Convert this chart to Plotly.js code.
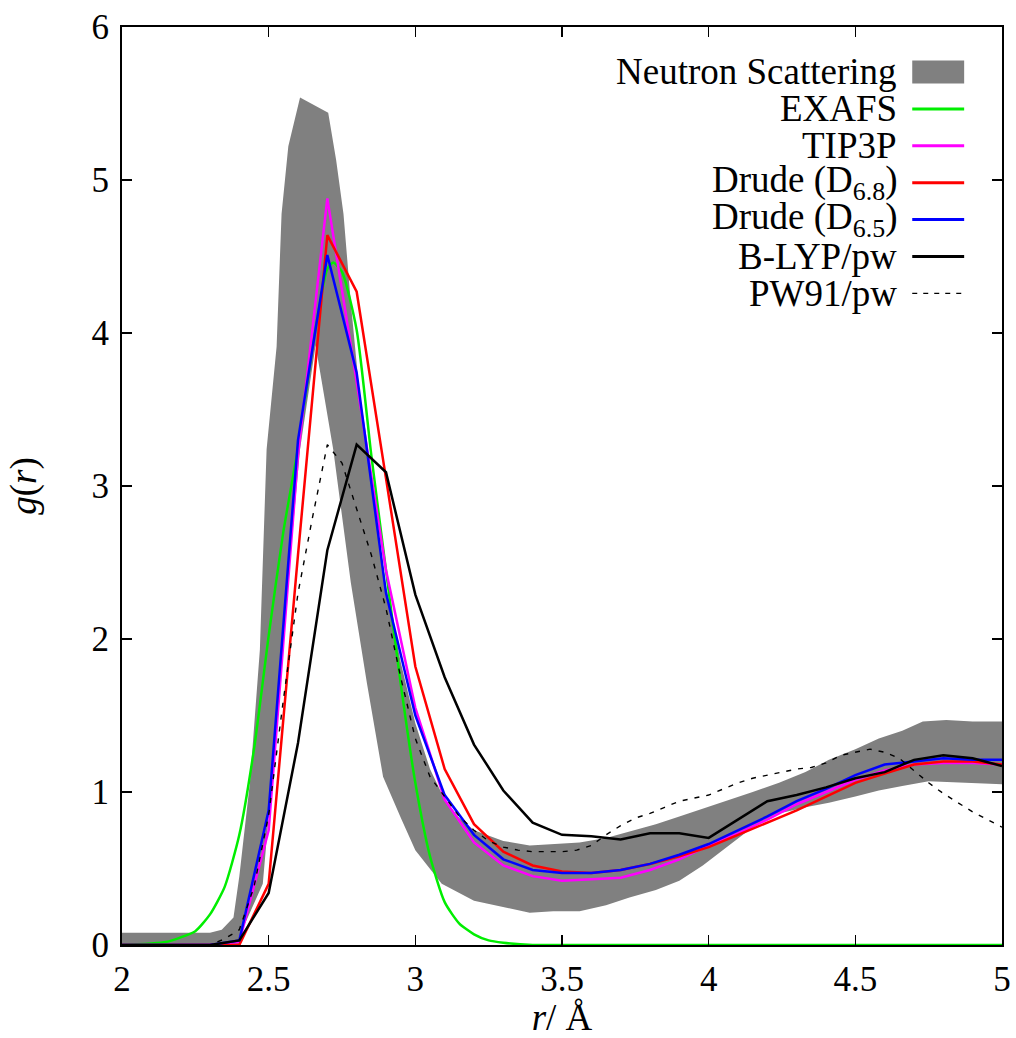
<!DOCTYPE html>
<html>
<head>
<meta charset="utf-8">
<script src="https://cdn.plot.ly/plotly-3.0.1.min.js"></script>
<style>html,body{margin:0;padding:0;background:#fff;}#chart{width:1016px;height:1038px;}</style>
</head>
<body>
<div id="chart"></div>
<script>
// ---- Neutron scattering band (upper and lower envelope) ----
const bandUpperR = [2.00, 2.30, 2.34, 2.36, 2.38, 2.40, 2.436, 2.47, 2.493, 2.527, 2.544, 2.567, 2.607, 2.703, 2.73, 2.755, 2.78, 2.81, 2.85, 2.90, 2.95, 3.00, 3.05, 3.10, 3.15, 3.20, 3.30, 3.39, 3.47, 3.56, 3.65, 3.73, 3.82, 3.90, 3.98, 4.07, 4.15, 4.24, 4.33, 4.41, 4.50, 4.58, 4.66, 4.73, 4.81, 4.90, 5.00];
const bandUpperG = [0.08, 0.08, 0.10, 0.14, 0.18, 0.45, 1.06, 1.93, 3.24, 3.91, 4.78, 5.22, 5.54, 5.44, 5.13, 4.78, 4.20, 3.60, 3.00, 2.35, 1.85, 1.45, 1.15, 0.95, 0.83, 0.75, 0.68, 0.65, 0.66, 0.67, 0.70, 0.74, 0.79, 0.84, 0.89, 0.95, 1.00, 1.06, 1.13, 1.21, 1.28, 1.35, 1.40, 1.46, 1.47, 1.46, 1.46];
const bandLowerR = [2.00, 2.36, 2.40, 2.41, 2.48, 2.51, 2.566, 2.607, 2.66, 2.72, 2.78, 2.835, 2.89, 2.953, 3.00, 3.09, 3.20, 3.29, 3.39, 3.47, 3.56, 3.65, 3.73, 3.82, 3.90, 3.98, 4.07, 4.15, 4.24, 4.33, 4.41, 4.50, 4.58, 4.66, 4.75, 4.88, 5.00];
const bandLowerG = [-0.30, -0.30, -0.05, 0.10, 0.40, 1.06, 2.37, 3.24, 3.92, 3.24, 2.37, 1.71, 1.10, 0.82, 0.62, 0.40, 0.29, 0.25, 0.21, 0.22, 0.22, 0.26, 0.31, 0.36, 0.42, 0.52, 0.65, 0.77, 0.86, 0.90, 0.93, 0.97, 1.01, 1.04, 1.07, 1.06, 1.05];

// ---- EXAFS ----
const exafsR = [2.00, 2.10, 2.15, 2.20, 2.25, 2.30, 2.35, 2.40, 2.45, 2.50, 2.55, 2.60, 2.65, 2.70, 2.72, 2.75, 2.80, 2.85, 2.90, 2.95, 3.00, 3.05, 3.10, 3.15, 3.20, 3.25, 3.30, 3.40, 3.50, 4.00, 4.50, 5.00];
const exafsG = [0.00, 0.01, 0.02, 0.05, 0.09, 0.20, 0.38, 0.72, 1.28, 2.02, 2.70, 3.25, 3.91, 4.42, 4.46, 4.40, 4.02, 3.20, 2.45, 1.71, 1.06, 0.58, 0.28, 0.14, 0.07, 0.03, 0.015, 0.00, 0.00, 0.00, 0.00, 0.00];

// ---- Simulations, r grid 0.1 Å ----
const simR = [2.0, 2.1, 2.2, 2.3, 2.4, 2.5, 2.6, 2.7, 2.8, 2.9, 3.0, 3.1, 3.2, 3.3, 3.4, 3.5, 3.6, 3.7, 3.8, 3.9, 4.0, 4.1, 4.2, 4.3, 4.4, 4.5, 4.6, 4.7, 4.8, 4.9, 5.0];
const tip3pG = [0, 0, 0, 0, 0.02, 0.75, 3.20, 4.88, 3.68, 2.45, 1.55, 0.95, 0.67, 0.52, 0.45, 0.42, 0.43, 0.44, 0.49, 0.56, 0.65, 0.73, 0.82, 0.92, 1.00, 1.08, 1.14, 1.18, 1.19, 1.19, 1.18];
const drude68G = [0, 0, 0, 0, 0.00, 0.40, 2.55, 4.64, 4.27, 3.05, 1.82, 1.15, 0.79, 0.61, 0.52, 0.48, 0.47, 0.49, 0.53, 0.58, 0.64, 0.72, 0.80, 0.88, 0.97, 1.06, 1.12, 1.18, 1.20, 1.20, 1.18];
const drude65G = [0, 0, 0, 0, 0.03, 0.88, 3.30, 4.51, 3.74, 2.30, 1.50, 0.98, 0.72, 0.56, 0.49, 0.47, 0.47, 0.49, 0.53, 0.59, 0.66, 0.75, 0.84, 0.94, 1.02, 1.11, 1.18, 1.20, 1.22, 1.21, 1.21];
const blypG = [0, 0, 0, 0, 0.03, 0.34, 1.32, 2.58, 3.27, 3.09, 2.29, 1.75, 1.31, 1.01, 0.80, 0.72, 0.71, 0.69, 0.73, 0.73, 0.70, 0.82, 0.94, 0.98, 1.03, 1.09, 1.13, 1.21, 1.24, 1.22, 1.17];

// ---- PW91, r grid 0.05 Å ----
const pw91R = [2.00, 2.30, 2.35, 2.40, 2.45, 2.50, 2.55, 2.60, 2.65, 2.70, 2.75, 2.80, 2.85, 2.90, 2.95, 3.00, 3.05, 3.10, 3.15, 3.20, 3.25, 3.30, 3.35, 3.40, 3.45, 3.50, 3.55, 3.60, 3.65, 3.70, 3.75, 3.80, 3.85, 3.90, 3.95, 4.00, 4.05, 4.10, 4.15, 4.20, 4.25, 4.30, 4.35, 4.40, 4.45, 4.50, 4.55, 4.60, 4.65, 4.70, 4.75, 4.80, 4.85, 4.90, 4.95, 5.00];
const pw91G = [0.00, 0.00, 0.04, 0.10, 0.38, 0.85, 1.60, 2.30, 2.80, 3.27, 3.15, 2.85, 2.55, 2.20, 1.75, 1.35, 1.10, 0.97, 0.84, 0.75, 0.68, 0.64, 0.62, 0.61, 0.61, 0.61, 0.62, 0.65, 0.72, 0.78, 0.83, 0.86, 0.90, 0.94, 0.96, 0.98, 1.02, 1.06, 1.09, 1.11, 1.13, 1.15, 1.16, 1.19, 1.24, 1.26, 1.28, 1.26, 1.22, 1.14, 1.06, 0.99, 0.93, 0.87, 0.82, 0.77];

// ---- Labels ----
const seriesNames = ['Neutron Scattering', 'EXAFS', 'TIP3P', 'Drude (D<sub>6.8</sub>)', 'Drude (D<sub>6.5</sub>)', 'B-LYP/pw', 'PW91/pw'];
const xTickVals = [2, 2.5, 3, 3.5, 4, 4.5, 5];
const xTickText = ['2', '2.5', '3', '3.5', '4', '4.5', '5'];
const yTickVals = [0, 1, 2, 3, 4, 5, 6];

const FONT = "'Liberation Serif', 'Times New Roman', Times, serif";
const GRAY = '#808080';

const bandX = bandUpperR.concat(bandLowerR.slice().reverse());
const bandY = bandUpperG.concat(bandLowerG.slice().reverse());

const traces = [
  {x: bandX, y: bandY, mode: 'lines', fill: 'toself', fillcolor: GRAY, line: {width: 0, color: GRAY}, name: seriesNames[0], hoverinfo: 'skip'},
  {x: exafsR, y: exafsG, mode: 'lines', line: {color: '#00ee00', width: 2.5, shape: 'spline', smoothing: 0.6}, name: seriesNames[1]},
  {x: simR, y: tip3pG, mode: 'lines', line: {color: '#ff00ff', width: 2.5}, name: seriesNames[2]},
  {x: simR, y: drude68G, mode: 'lines', line: {color: '#ff0000', width: 2.5}, name: seriesNames[3]},
  {x: simR, y: drude65G, mode: 'lines', line: {color: '#0000ff', width: 2.5}, name: seriesNames[4]},
  {x: simR, y: blypG, mode: 'lines', line: {color: '#000000', width: 2.5}, name: seriesNames[5]},
  {x: pw91R, y: pw91G, mode: 'lines', line: {color: '#000000', width: 1.4, dash: '5px,7px'}, name: seriesNames[6]}
];

// custom legend (text right, sample at right)
const legendStyles = [
  {type: 'rect', color: GRAY},
  {type: 'line', color: '#00ee00', dash: 'solid', width: 3},
  {type: 'line', color: '#ff00ff', dash: 'solid', width: 3},
  {type: 'line', color: '#ff0000', dash: 'solid', width: 3},
  {type: 'line', color: '#0000ff', dash: 'solid', width: 3},
  {type: 'line', color: '#000000', dash: 'solid', width: 3},
  {type: 'line', color: '#000000', dash: '5px,6px', width: 1.4}
];
const legTextX = 0.883, legX0 = 0.898, legX1 = 0.957, legY0 = 0.951, legStep = 0.0402;
const annotations = [];
const shapes = [];
seriesNames.forEach((nm, i) => {
  const yy = legY0 - i * legStep;
  annotations.push({xref: 'paper', yref: 'paper', x: legTextX, y: yy, xanchor: 'right', yanchor: 'middle', text: nm, showarrow: false, font: {family: FONT, size: 37, color: '#000'}});
  const st = legendStyles[i];
  if (st.type === 'rect') {
    shapes.push({type: 'rect', xref: 'paper', yref: 'paper', x0: legX0, x1: legX1, y0: yy - 0.0125, y1: yy + 0.0125, fillcolor: st.color, line: {width: 0}});
  } else {
    shapes.push({type: 'line', xref: 'paper', yref: 'paper', x0: legX0, x1: legX1, y0: yy, y1: yy, line: {color: st.color, width: st.width, dash: st.dash}});
  }
});

function axisCommon() {
  return {
    showline: true, linecolor: '#000', linewidth: 2, mirror: 'ticks',
    ticks: 'inside', ticklen: 10, tickwidth: 1.5, tickcolor: '#000',
    showgrid: false, zeroline: false,
    tickfont: {family: FONT, size: 35, color: '#000'}
  };
}

const layout = {
  width: 1016, height: 1038,
  margin: {l: 122, r: 14, t: 27, b: 93},
  paper_bgcolor: '#fff', plot_bgcolor: '#fff',
  font: {family: FONT, color: '#000'},
  showlegend: false,
  xaxis: Object.assign(axisCommon(), {range: [2, 5], tickvals: xTickVals, ticktext: xTickText, ticklabelstandoff: 2,
    title: {text: '<i>r</i>/ Å', font: {family: FONT, size: 37, color: '#000'}, standoff: 4}}),
  yaxis: Object.assign(axisCommon(), {range: [0, 6], tickvals: yTickVals, ticklabelstandoff: 4,
    title: {text: '<i>g</i>(<i>r</i>)', font: {family: FONT, size: 37, color: '#000'}, standoff: 44}}),
  annotations: annotations,
  shapes: shapes
};

Plotly.newPlot('chart', traces, layout, {staticPlot: true, displayModeBar: false});
</script>
</body>
</html>
